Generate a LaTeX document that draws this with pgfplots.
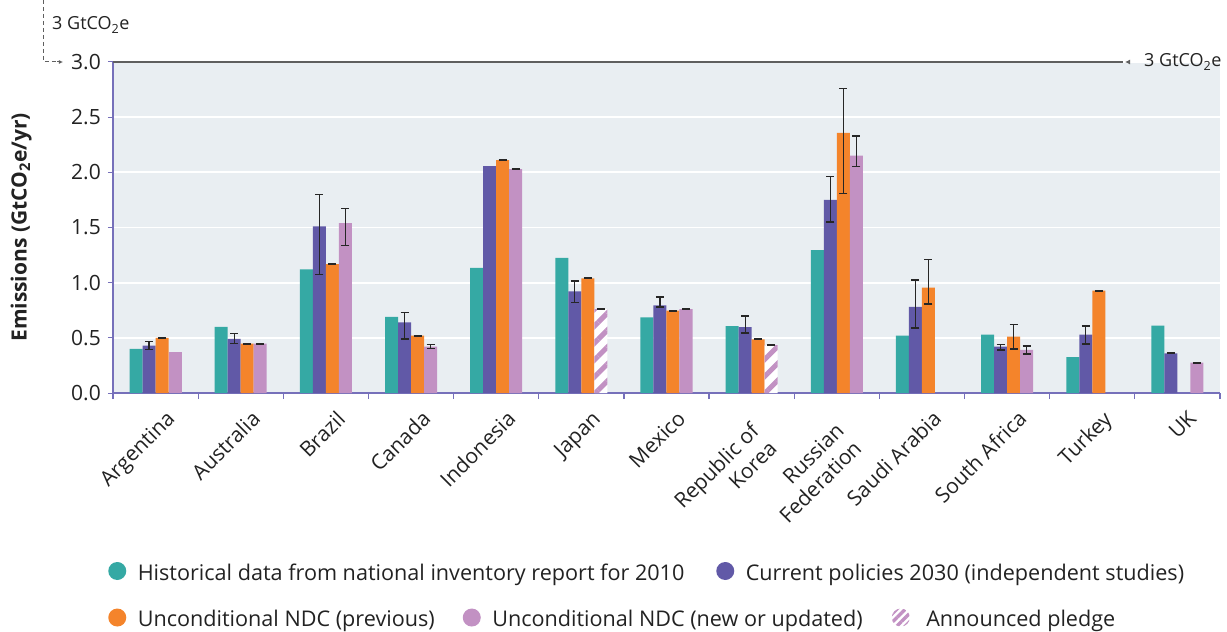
\documentclass[border=0pt]{standalone}
\usepackage{fontspec}
\setmainfont{Open Sans}
\usepackage{pgfplots}
\pgfplotsset{compat=1.18}
\usetikzlibrary{patterns.meta, arrows.meta}

\definecolor{tealc}{RGB}{53,169,164}
\definecolor{purplec}{RGB}{97,89,167}
\definecolor{orangec}{RGB}{244,132,43}
\definecolor{lpurplec}{RGB}{194,145,195}
\definecolor{bgc}{RGB}{233,238,242}
\definecolor{axisc}{RGB}{118,112,186}
\definecolor{textc}{RGB}{34,34,34}
\definecolor{annc}{RGB}{95,95,95}

\newcommand{\tickfont}{\fontsize{21}{25}\selectfont}
\newcommand{\legfont}{\fontsize{21.6}{25}\selectfont}
\newcommand{\pad}{\hbox to 17pt{}}

\pgfplotsset{
  errs/.style={error bars/.cd, y dir=both, y explicit,
     error bar style={line width=1.3pt, black!85},
     error mark options={rotate=90, mark size=4pt, line width=1.3pt, black!85}},
  dotleg/.style={draw=none, legend image code/.code={\fill[#1, draw=none] (9pt,2pt) circle (9pt); \path[draw=none, fill=none] (0pt,-7pt) rectangle (29.5pt,11pt);}},
  hatchleg/.style={draw=none, legend image code/.code={%
     \begin{scope}\clip (9pt,2pt) circle (9pt);
       \fill[white, draw=none] (0pt,-7pt) rectangle (18pt,11pt);
       \fill[draw=none, pattern={Lines[angle=45,distance=6pt,line width=3.4pt]}, pattern color=lpurplec] (0pt,-7pt) rectangle (18pt,11pt);
     \end{scope}
     \path[draw=none, fill=none] (0pt,-7pt) rectangle (34.5pt,11pt);}},
  commonax/.style={at={(0pt,0pt)}, anchor=south west,
     scale only axis, width=1107pt, height=331pt,
     xmin=-0.5, xmax=12.5, ymin=0, ymax=3},
  legsty/.style={legend style={draw=none, fill=none, inner sep=0pt, outer sep=0pt,
     column sep=0pt, row sep=0pt, font=\legfont, text=textc,
     nodes={inner sep=0pt, outer sep=0pt}}, legend cell align=left},
}

\begin{document}
\begin{tikzpicture}
\useasboundingbox (-113pt,-239pt) rectangle (1114pt,393pt);
\begin{axis}[commonax, legsty,
  axis background/.style={fill=bgc},
  axis x line*=bottom, axis y line*=left,
  axis line style={draw=axisc, line width=1.2pt, -},
  ybar, bar width=13pt,
  /pgf/number format/assume math mode=true,
  ytick={0,0.5,1,1.5,2,2.5,3},
  yticklabel style={font=\tickfont, text=textc, inner sep=0pt, xshift=-7pt,
     /pgf/number format/.cd, fixed, fixed zerofill, precision=1},
  ymajorgrids, major grid style={white, line width=1.8pt},
  tick align=outside, major tick length=5pt, minor tick length=6pt,
  ytick style={draw=axisc, line width=1pt},
  xtick={0,1,2,3,4,5,6,7,8,9,10,11,12},
  major x tick style={draw=none},
  minor xtick={-0.5,0.5,1.5,2.5,3.5,4.5,5.5,6.5,7.5,8.5,9.5,10.5,11.5,12.5},
  minor x tick style={draw=axisc, line width=1.2pt},
  xticklabels={Argentina, Australia, Brazil, Canada, Indonesia, Japan, Mexico,
     {Republic of\pad\\Korea\pad}, {Russian\pad\\Federation\pad},
     Saudi Arabia, South Africa, Turkey, UK},
  xticklabel style={font=\tickfont, text=textc, inner sep=0pt, align=right,
     xshift=9.5pt, yshift=-11pt, rotate=45, anchor=north east},
  ylabel={\bfseries Emissions (GtCO\textsubscript{2}e/yr)},
  ylabel style={font=\fontsize{21}{25}\selectfont, text=textc,
     at={(axis description cs:-0.083,0.5)}, anchor=center},
  legend columns=2,
  legend style={at={(axis description cs:-0.00425,-0.5408)}, anchor=west},
]
% Historical 2010
\addplot[forget plot, fill=tealc, draw=none, bar shift=-19.5pt] coordinates {
 (0,0.40) (1,0.60) (2,1.12) (3,0.69) (4,1.135) (5,1.225) (6,0.685)
 (7,0.605) (8,1.295) (9,0.52) (10,0.53) (11,0.325) (12,0.61)};
% Current policies 2030
\addplot[forget plot, fill=purplec, draw=none, bar shift=-6.5pt, errs] coordinates {
 (0,0.43) += (0,0.035) -= (0,0.035)
 (1,0.49) += (0,0.05) -= (0,0.04)
 (2,1.51) += (0,0.29) -= (0,0.435)
 (3,0.64) += (0,0.09) -= (0,0.15)
 (5,0.92) += (0,0.095) -= (0,0.10)
 (6,0.795) += (0,0.075) -= (0,0.015)
 (7,0.598) += (0,0.10) -= (0,0.054)
 (8,1.75) += (0,0.21) -= (0,0.20)
 (9,0.78) += (0,0.245) -= (0,0.19)
 (10,0.42) += (0,0.02) -= (0,0.03)
 (11,0.53) += (0,0.077) -= (0,0.086)
 (12,0.36) += (0,0.004) -= (0,0.004)};
\addplot[forget plot, fill=purplec, draw=none, bar shift=-6.5pt] coordinates {(4,2.06)};
% Unconditional NDC (previous)
\addplot[forget plot, fill=orangec, draw=none, bar shift=6.5pt, errs] coordinates {
 (0,0.50) += (0,0.004) -= (0,0.004)
 (1,0.447) += (0,0.004) -= (0,0.004)
 (2,1.167) += (0,0.004) -= (0,0.004)
 (3,0.52) += (0,0.004) -= (0,0.004)
 (4,2.11) += (0,0.004) -= (0,0.004)
 (5,1.04) += (0,0.004) -= (0,0.004)
 (6,0.746) += (0,0.004) -= (0,0.004)
 (7,0.487) += (0,0.004) -= (0,0.004)
 (8,2.357) += (0,0.40) -= (0,0.55)
 (9,0.955) += (0,0.255) -= (0,0.148)
 (10,0.51) += (0,0.11) -= (0,0.11)
 (11,0.927) += (0,0.004) -= (0,0.004)};
% Unconditional NDC (new or updated)
\addplot[forget plot, fill=lpurplec, draw=none, bar shift=19.5pt, errs] coordinates {
 (1,0.447) += (0,0.004) -= (0,0.004)
 (2,1.54) += (0,0.13) -= (0,0.20)
 (3,0.42) += (0,0.02) -= (0,0.015)
 (4,2.03) += (0,0.004) -= (0,0.004)
 (6,0.76) += (0,0.004) -= (0,0.004)
 (8,2.152) += (0,0.178) -= (0,0.097)
 (10,0.39) += (0,0.036) -= (0,0.036)
 (12,0.275) += (0,0.004) -= (0,0.004)};
\addplot[forget plot, fill=lpurplec, draw=none, bar shift=19.5pt] coordinates {(0,0.37)};
% Announced pledge (hatched)
\addplot[forget plot, fill=white, draw=none, bar shift=19.5pt] coordinates {(5,0.76) (7,0.435)};
\addplot[forget plot, draw=none, bar shift=19.5pt,
   pattern={Lines[angle=45,distance=12pt,line width=5pt]}, pattern color=lpurplec, errs] coordinates {
 (5,0.76) += (0,0.004) -= (0,0.004)
 (7,0.435) += (0,0.004) -= (0,0.004)};
\addlegendimage{dotleg=tealc}
\addlegendentry{\makebox[578.5pt][l]{Historical data from national inventory report for 2010}}
\addlegendimage{dotleg=purplec}
\addlegendentry{Current policies 2030 (independent studies)}
\end{axis}

\begin{axis}[commonax, legsty, hide axis, legend columns=3,
  legend style={at={(axis description cs:-0.00425,-0.6813)}, anchor=west}]
\addplot[forget plot, draw=none] coordinates {(0,0)};
\addlegendimage{dotleg=orangec}
\addlegendentry{\makebox[325pt][l]{Unconditional NDC (previous)}}
\addlegendimage{dotleg=lpurplec}
\addlegendentry{\makebox[399.5pt][l]{Unconditional NDC (new or updated)}}
\addlegendimage{hatchleg}
\addlegendentry{Announced pledge}
\end{axis}

% annotations
\draw[annc, line width=1.1pt] (0pt,331pt) -- (1010pt,331pt);
\draw[annc, line width=1.1pt, {Latex[length=5pt,width=5pt]}-] (1012pt,331pt) -- (1016pt,331pt);
\node[anchor=base west, inner sep=0pt, font=\fontsize{18}{20}\selectfont, text=textc]
   at (1031pt,326pt) {3 GtCO\textsubscript{2}e};
\draw[annc, line width=1pt, dash pattern=on 4pt off 3pt] (-69pt,393pt) |- (-55pt,331pt);
\draw[annc, line width=1pt, -{Latex[length=4pt,width=4pt]}] (-56pt,331pt) -- (-50pt,331pt);
\node[anchor=base west, inner sep=0pt, font=\fontsize{18}{20}\selectfont, text=textc]
   at (-61pt,363pt) {3 GtCO\textsubscript{2}e};
\end{tikzpicture}
\end{document}
